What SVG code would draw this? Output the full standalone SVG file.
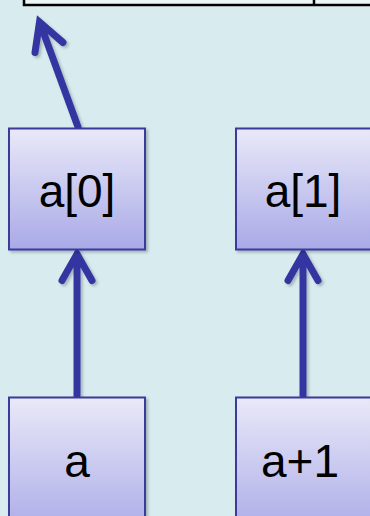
<svg xmlns="http://www.w3.org/2000/svg" width="370" height="516" viewBox="0 0 370 516">
<defs>
<linearGradient id="boxGrad" x1="0" y1="0" x2="0" y2="1">
<stop offset="0" stop-color="#e9e9f9"/>
<stop offset="1" stop-color="#a9a9e7"/>
</linearGradient>
<filter id="shadow" filterUnits="userSpaceOnUse" x="0" y="-20" width="400" height="560">
<feDropShadow dx="2" dy="2" stdDeviation="1.5" flood-color="#000" flood-opacity="0.25"/>
</filter>
</defs>
<style>
.box{fill:url(#boxGrad);stroke:#3a3a9c;stroke-width:2;filter:url(#shadow)}
.lbl{font-family:"Liberation Sans",Arial,sans-serif;font-size:46px;fill:#000;text-anchor:middle}
.arr{fill:none;stroke:#3636a2;stroke-width:7;stroke-linecap:round;stroke-linejoin:miter;filter:url(#shadow)}
</style>
<rect width="370" height="516" fill="#d8ecef"/>
<g id="memory">
<rect x="24" y="-10" width="360" height="15" fill="#eef5f5" stroke="#000" stroke-width="2.5"/>
<line x1="314" y1="-10" x2="314" y2="5" stroke="#000" stroke-width="2.5"/>
</g>
<g id="connectors">
<path class="arr" d="M78,127 L40,23 M35,52.5 L39.5,22 L63,42.5"/>
<path class="arr" d="M77,396 L77,256 M62,280.5 L77,254 L92,280.5"/>
<path class="arr" d="M303,396 L303,256 M288,280.5 L303,254 L318,280.5"/>
</g>
<g id="node-a0">
<rect class="box" x="9" y="128.5" width="136" height="121"/>
<text class="lbl" x="77" y="207">a[0]</text>
</g>
<g id="node-a1">
<rect class="box" x="236" y="128.5" width="136" height="121"/>
<text class="lbl" x="303" y="207">a[1]</text>
</g>
<g id="node-a">
<rect class="box" x="9" y="397.5" width="136" height="140"/>
<text class="lbl" x="77" y="477">a</text>
</g>
<g id="node-a-plus-1">
<rect class="box" x="236" y="397.5" width="136" height="140"/>
<text class="lbl" x="300" y="477">a+1</text>
</g>
</svg>
